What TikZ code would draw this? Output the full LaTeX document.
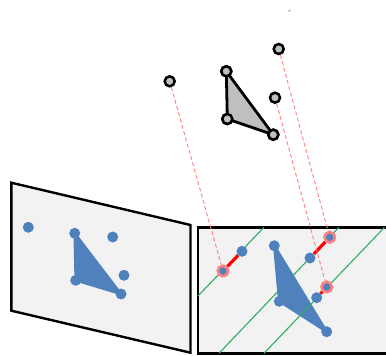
\documentclass[tikz,border=0pt]{standalone}
\usepackage{xcolor}
\usepackage{tikz}
\definecolor{ptblue}{RGB}{79,129,189}
\definecolor{panelgrey}{RGB}{242,242,242}
\definecolor{topgrey}{RGB}{191,191,191}
\definecolor{epigreen}{RGB}{45,175,100}
\tikzset{
  imgpt/.style={circle, fill=ptblue, inner sep=0pt, minimum size=11pt},
  hitpt/.style={circle, fill=ptblue, draw=red!50!white, line width=2.6pt, inner sep=0pt, minimum size=10.5pt},
  toppt/.style={circle, fill=topgrey, draw=black, line width=2.5pt, inner sep=0pt, minimum size=10pt},
  panel/.style={draw=black, fill=panelgrey, line width=2.4pt},
  epiline/.style={draw=epigreen, line width=1.1pt},
  rayline/.style={draw=red!50!white, dashed, dash pattern=on 4pt off 2.5pt, line width=0.9pt},
  errline/.style={draw=red, line width=3.2pt},
  imgtri/.style={fill=ptblue, draw=ptblue, line width=2.5pt, line join=round}
}

\begin{document}
\begin{tikzpicture}[x=1pt, y=-1pt]
\clip (0,0) rectangle (386,356);
% image panels
\draw[panel] (11.3,182.7) -- (190.5,225) -- (190.5,352.7) -- (11.3,310.7) -- cycle;
\draw[panel] (198,227.3) rectangle (392,353.3);
% epipolar lines
\coordinate (e1a) at (198,296);
\coordinate (e1b) at (264,227.3);
\coordinate (e2a) at (219,353.3);
\coordinate (e2b) at (339,227.3);
\coordinate (e3a) at (264,353.3);
\coordinate (e3b) at (384.5,227.3);
\draw[epiline] (e1a) -- (e1b);
\draw[epiline] (e2a) -- (e2b);
% left image
\node[imgpt] (la) at (74.7,233.3) {};
\node[imgpt] (lb) at (75.7,280.3) {};
\node[imgpt] (lc) at (121,294) {};
\draw[imgtri] (la.center) -- (lb.center) -- (lc.center) -- cycle;
\node[imgpt] (lp) at (28.3,227.3) {};
\node[imgpt] (lq) at (112.7,237) {};
\node[imgpt] (lr) at (124,275.3) {};
% right image
\node[imgpt] (ra) at (274.3,245.7) {};
\node[imgpt] (rb) at (279.3,301.3) {};
\node[imgpt] (rc) at (326.7,331.7) {};
\draw[imgtri] (ra.center) -- (rb.center) -- (rc.center) -- cycle;
\draw[epiline] (e3a) -- (e3b);
\node[imgpt] (rp) at (242,251.3) {};
\node[imgpt] (rq) at (310,258) {};
\node[imgpt] (rr) at (316.7,297.7) {};
\node[hitpt] (hp) at (223,271) {};
\node[hitpt] (hq) at (329.7,237.3) {};
\node[hitpt] (hr) at (326.7,287) {};
\draw[errline] (hp) -- (rp);
\draw[errline] (hq) -- (rq);
\draw[errline] (hr) -- (rr);
% object in space
\node[toppt] (ta) at (226.3,71.3) {};
\node[toppt] (tb) at (227.3,119) {};
\node[toppt] (tc) at (273.3,134.7) {};
\draw[black, fill=topgrey, line width=2.8pt, line join=round] (ta.center) -- (tb.center) -- (tc.center) -- cycle;
\node[toppt] at (ta) {};
\node[toppt] at (tb) {};
\node[toppt] at (tc) {};
\node[toppt] (tp) at (169.7,81.3) {};
\node[toppt] (tq) at (278.7,49) {};
\node[toppt] (tr) at (275,97.7) {};
% rays
\draw[rayline] (tp) -- (hp);
\draw[rayline] (tq) -- (hq);
\draw[rayline] (tr) -- (hr);
\coordinate (ma) at (288.5,11.5);
\coordinate (mb) at (290.5,9.8);
\draw[ptblue, line width=0.7pt] (ma) -- (mb);
\end{tikzpicture}
\end{document}
